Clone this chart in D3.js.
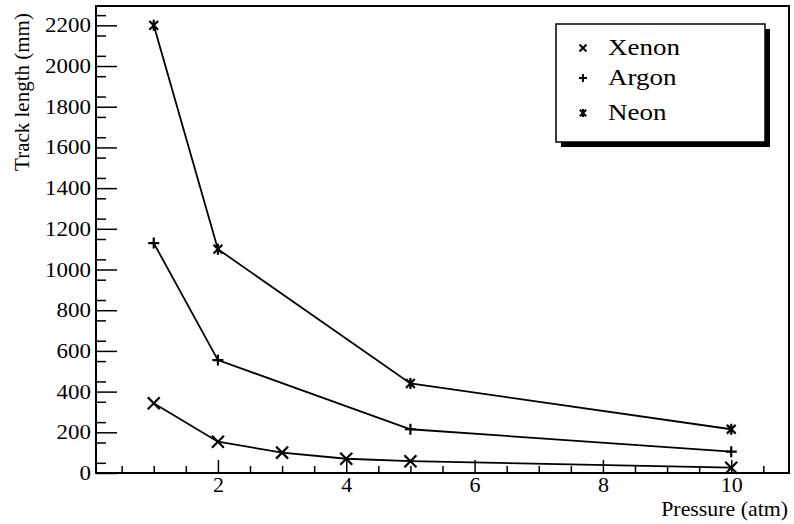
<!DOCTYPE html>
<html>
<head>
<meta charset="utf-8">
<script src="https://cdn.jsdelivr.net/npm/d3@7"></script>
<style>
  body { margin: 0; background: #fff; }
  svg { display: block; }
  svg text { font-family: "Liberation Serif", "Times New Roman", serif; fill: #000; }
</style>
</head>
<body>
<div id="chart"><svg></svg></div>
<script>
// pressure values (atm) and track lengths (mm)
const xenonP = [1, 2, 3, 4, 5, 10];
const xenonLen = [343, 154, 100, 70, 58, 26];
const argonP = [1, 2, 5, 10];
const argonLen = [1130, 555, 215, 105];
const neonP = [1, 2, 5, 10];
const neonLen = [2200, 1100, 440, 215];

const seriesNames = ["Xenon", "Argon", "Neon"];
const xTickLabels = [2, 4, 6, 8, 10];
const yTickLabels = [0, 200, 400, 600, 800, 1000, 1200, 1400, 1600, 1800, 2000, 2200];

const W = 794, H = 524;
const svg = d3.select("#chart > svg").attr("width", W).attr("height", H);

const frame = { left: 96, right: 789, top: 6, bottom: 473 };

const x = d3.scaleLinear().domain([0.1, 10.9]).range([frame.left, frame.right]);
const y = d3.scaleLinear().domain([0, 2295]).range([frame.bottom, frame.top]);

// the scanned original's lettering is a bit wider than Times
const stretch = (sel, k) => sel.each(function() {
  const w = this.getComputedTextLength();
  d3.select(this).attr("textLength", w * k).attr("lengthAdjust", "spacingAndGlyphs");
});

// marker shapes
const markers = {
  Xenon: r => `M${-r},${-r}L${r},${r}M${-r},${r}L${r},${-r}`,
  Argon: r => `M${-r},0L${r},0M0,${-r}L0,${r}`,
  Neon: r => {
    const d = r * 0.8;
    return `M${-d},${-d}L${d},${d}M${-d},${d}L${d},${-d}M0,${-r}L0,${r}`;
  }
};

// minor ticks x
const xMinor = d3.range(0.5, 10.9, 0.5).filter(v => v % 2 !== 0);
svg.append("g")
  .attr("transform", `translate(0,${frame.bottom})`)
  .call(d3.axisBottom(x).tickValues(xMinor).tickSizeInner(-7).tickSizeOuter(0).tickFormat(""))
  .call(g => g.select(".domain").remove())
  .call(g => g.selectAll("line").attr("stroke-width", 1.5));

svg.append("g")
  .attr("transform", `translate(0,${frame.bottom})`)
  .call(d3.axisBottom(x).tickValues(xTickLabels).tickFormat(d3.format("d"))
    .tickSizeInner(-13).tickSizeOuter(0).tickPadding(3))
  .call(g => g.select(".domain").remove())
  .call(g => g.selectAll("line").attr("stroke-width", 1.5))
  .call(g => g.selectAll("text").attr("font-size", 22));

// minor ticks y
const yMinor = d3.range(50, 2300, 100);
svg.append("g")
  .attr("transform", `translate(${frame.left},0)`)
  .call(d3.axisLeft(y).tickValues(yMinor).tickSizeInner(-10).tickSizeOuter(0).tickFormat(""))
  .call(g => g.select(".domain").remove())
  .call(g => g.selectAll("line").attr("stroke-width", 1.5));

svg.append("g")
  .attr("transform", `translate(${frame.left},0)`)
  .call(d3.axisLeft(y).tickValues(yTickLabels).tickFormat(d3.format("d"))
    .tickSizeInner(-21).tickSizeOuter(0).tickPadding(5))
  .call(g => g.select(".domain").remove())
  .call(g => g.selectAll("line").attr("stroke-width", 1.5))
  .call(g => g.selectAll("text").attr("font-size", 20.5).call(stretch, 1.12));

// frame
svg.append("rect")
  .attr("x", frame.left).attr("y", frame.top)
  .attr("width", frame.right - frame.left).attr("height", frame.bottom - frame.top)
  .attr("fill", "none").attr("stroke", "#000").attr("stroke-width", 2);

// axis titles
svg.append("text")
  .attr("x", frame.right - 1).attr("y", 516)
  .attr("text-anchor", "end")
  .attr("font-size", 21)
  .text("Pressure (atm)")
  .call(stretch, 1.04);

svg.append("text")
  .attr("transform", `translate(29,92) rotate(-90)`)
  .attr("text-anchor", "middle")
  .attr("font-size", 21)
  .text("Track length (mm)");

// series
const series = [
  { name: "Xenon", p: xenonP, v: xenonLen },
  { name: "Argon", p: argonP, v: argonLen },
  { name: "Neon", p: neonP, v: neonLen }
];

const line = d3.line().x(d => x(d[0])).y(d => y(d[1]));

series.forEach(s => {
  const pts = s.p.map((p, i) => [p, s.v[i]]);
  svg.append("path")
    .datum(pts)
    .attr("fill", "none")
    .attr("stroke", "#000")
    .attr("stroke-width", 1.8)
    .attr("d", line);

  svg.append("g").selectAll("path")
    .data(pts)
    .join("path")
    .attr("transform", d => `translate(${x(d[0])},${y(d[1])})`)
    .attr("d", markers[s.name](s.name === "Xenon" ? 6 : 5.5))
    .attr("fill", "none")
    .attr("stroke", "#000")
    .attr("stroke-width", 2.2);
});

// legend
const lg = svg.append("g");
const lx = 556, ly = 24, lw = 209, lh = 118;
lg.append("rect")
  .attr("x", lx + 5).attr("y", ly + 5).attr("width", lw).attr("height", lh)
  .attr("fill", "#000");
lg.append("rect")
  .attr("x", lx).attr("y", ly).attr("width", lw).attr("height", lh)
  .attr("fill", "#fff").attr("stroke", "#000").attr("stroke-width", 1.5);

const legendBase = [55, 85, 120];
seriesNames.forEach((name, i) => {
  lg.append("path")
    .attr("transform", `translate(583,${legendBase[i] - 7})`)
    .attr("d", markers[name](name === "Xenon" ? 3.5 : 4))
    .attr("fill", "none")
    .attr("stroke", "#000")
    .attr("stroke-width", 2);
  lg.append("text")
    .attr("x", 608)
    .attr("y", legendBase[i])
    .attr("font-size", 22.5)
    .text(name)
    .call(stretch, 1.2);
});
</script>
</body>
</html>
